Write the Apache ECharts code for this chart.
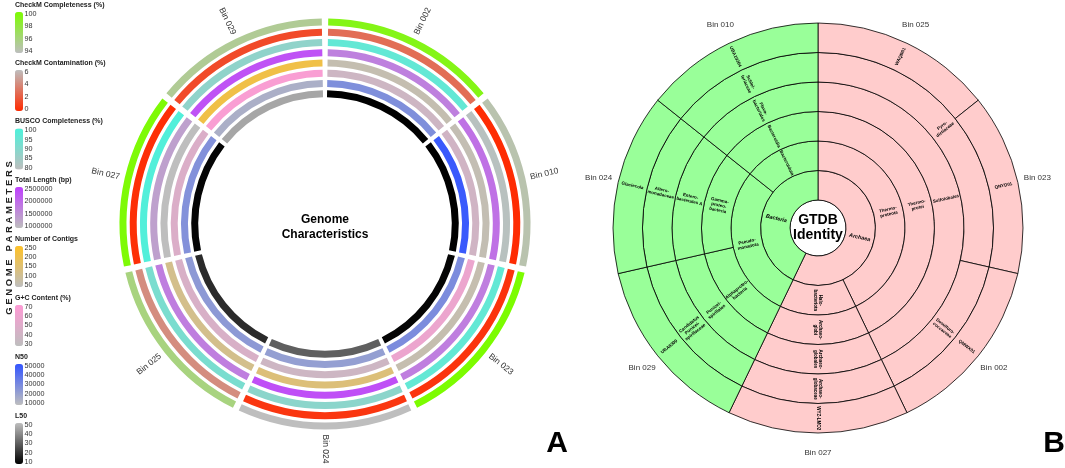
<!DOCTYPE html>
<html><head><meta charset="utf-8">
<script src="https://cdn.jsdelivr.net/npm/echarts@6/dist/echarts.min.js"></script>
<style>html,body{margin:0;padding:0;background:#fff}#chart{width:1065px;height:468px}</style>
</head><body><div id="chart"></div>
<script>
// ---------- Panel A data ----------
const bins = ['Bin 002','Bin 010','Bin 023','Bin 024','Bin 025','Bin 027','Bin 029'];
const checkmCompleteness = [99.3, 94.5, 100, 94.0, 96.0, 99.8, 95.3];
const checkmContamination = [2.7, 0.1, 0.4, 0.5, 4.0, 0.2, 1.3];
const buscoCompleteness = [96, 81, 96, 89, 92, 99, 88];
const totalLength = [1730000, 1900000, 1750000, 2300000, 1750000, 1350000, 2260000];
const numberOfContigs = [68, 64, 70, 142, 116, 50, 205];
const gcContent = [39, 41, 58, 39, 46, 48, 66];
const n50 = [28000, 48000, 29000, 22000, 24000, 27000, 15600];
const l50 = [10, 10, 11, 30, 19, 11, 45];

const legendTitles = ['CheckM Completeness (%)','CheckM Contamination (%)','BUSCO Completeness (%)','Total Length (bp)','Number of Contigs','G+C Content (%)','N50','L50'];
const ticksCheckmComp = [94, 96, 98, 100];
const ticksCheckmCont = [0, 2, 4, 6];
const ticksBusco = [80, 85, 90, 95, 100];
const ticksLength = [1000000, 1500000, 2000000, 2500000];
const ticksContigs = [50, 100, 150, 200, 250];
const ticksGC = [30, 40, 50, 60, 70];
const ticksN50 = [10000, 20000, 30000, 40000, 50000];
const ticksL50 = [10, 20, 30, 40, 50];

// ---------- Panel B data (clockwise from top) ----------
const gtdbBins = ['Bin 025','Bin 023','Bin 002','Bin 027','Bin 029','Bin 024','Bin 010'];
const domain = ['Archaea','Archaea','Archaea','Archaea','Bacteria','Bacteria','Bacteria'];
const phylum = ['Thermo-\nproteota','Thermo-\nproteota','Thermo-\nproteota','Halo-\nbacteriota','Pseudo-\nmonadota','Pseudo-\nmonadota','Bacteroidota'];
const taxClass = ['Thermo-\nprotei','Thermo-\nprotei','Thermo-\nprotei','Archaeo-\nglobi','Alphaproteo-\nbacteria','Gamma-\nproteo-\nbacteria','Bacteroidia'];
const taxOrder = ['Sulfolobales','Sulfolobales','Sulfolobales','Archaeo-\nglobales','Punicei-\nspirillales','Entero-\nbacterales A','Flavo-\nbacteriales'];
const family = ['Pyro-\ndictiaceae','Pyro-\ndictiaceae','Desulfuro-\ncoccaceae','Archaeo-\nglobaceae','Candidatus\nPunicei-\nspirillaceae','Altero-\nmonadaceae','Schlei-\nferiaceae'];
const genus = ['WAQB01','QNYD01','QMWX01','WYZ-LMO2','UBA8309','Glaciecola','UBA10364'];

// ---------- styles / layout ----------
const GRAY = '#BEBEBE';
const ramps = [[GRAY,'#7CFC00'],['#FF2A00',GRAY],[GRAY,'#4CF2DB'],[GRAY,'#BF3EFF'],[GRAY,'#FFC125'],[GRAY,'#FF9AD5'],[GRAY,'#3355FF'],['#000000',GRAY]];
const barTops = [12, 70, 128.5, 187, 246, 305, 364, 423];
const metrics = [checkmCompleteness, checkmContamination, buscoCompleteness, totalLength, numberOfContigs, gcContent, n50, l50];
const tickSets = [ticksCheckmComp, ticksCheckmCont, ticksBusco, ticksLength, ticksContigs, ticksGC, ticksN50, ticksL50];
const domainColor = {Archaea: '#FFCCCC', Bacteria: '#99FF99'};
const FONT = 'Liberation Sans, Arial, sans-serif';
const CLEAR = 'rgba(0,0,0,0)';

const source = bins.map((b, i) => [b, 1].concat(metrics.map(m => m[i])));

const series = [];
const visualMap = [];
const grid = [], xAxis = [], yAxis = [], title = [];
const A_CENTER = [325, 224];
metrics.forEach((m, k) => {
  const outer = 205.5 - 10.25 * k;
  series.push({
    type: 'pie', datasetIndex: 0, encode: {itemName: 0, value: 1},
    center: A_CENTER, radius: [outer - 7, outer], startAngle: 90, clockwise: true,
    padAngle: 1.8, avoidLabelOverlap: false, silent: true,
    itemStyle: {borderWidth: 0}, label: {show: false}, labelLine: {show: false},
    emphasis: {disabled: true}
  });
  const t = tickSets[k];
  visualMap.push({
    type: 'continuous', seriesIndex: k, dimension: 2 + k,
    min: t[0], max: t[t.length - 1], calculable: false, showLabel: false,
    inRange: {color: ramps[k]}, orient: 'vertical', left: 15, top: barTops[k],
    itemWidth: 8, itemHeight: 41, padding: 0, hoverLink: false
  });
  grid.push({left: 15, width: 8, top: barTops[k] + 1.8, height: 37.4});
  xAxis.push({gridIndex: k, type: 'value', show: false});
  yAxis.push({gridIndex: k, type: 'value', position: 'right', min: t[0], max: t[t.length - 1], interval: t[1] - t[0],
    axisLine: {show: false}, axisTick: {show: false}, splitLine: {show: false},
    axisLabel: {fontSize: 7.2, margin: 1.5, color: '#333', fontFamily: FONT, formatter: v => String(v)}});
  title.push({text: legendTitles[k], left: 15, top: barTops[k] - 10.5, padding: 0,
    textStyle: {fontSize: 7, fontWeight: 'bold', color: '#222', fontFamily: FONT}});
});
// bin name labels of panel A (transparent label ring)
series.push({
  type: 'pie', datasetIndex: 0, encode: {itemName: 0, value: 1},
  center: A_CENTER, radius: [207, 237], startAngle: 90, clockwise: true, silent: true,
  avoidLabelOverlap: false, itemStyle: {color: CLEAR, borderWidth: 0},
  label: {show: true, position: 'inside', rotate: 'radial', formatter: '{b}', fontSize: 8.5, color: '#333', fontFamily: FONT},
  labelLine: {show: false}, emphasis: {disabled: true}
});

// sunburst tree
const taxLevels = [domain, phylum, taxClass, taxOrder, family, genus];
function build(idxs, depth) {
  const groups = [];
  idxs.forEach(i => {
    const name = taxLevels[depth][i];
    const last = groups[groups.length - 1];
    if (last && last.name === name) last.idx.push(i); else groups.push({name, idx: [i]});
  });
  return groups.map(g => {
    const node = {name: g.name, itemStyle: {color: domainColor[domain[g.idx[0]]]}};
    if (depth < taxLevels.length - 1) node.children = build(g.idx, depth + 1);
    else node.children = g.idx.map(i => ({name: gtdbBins[i], value: 1, itemStyle: {color: CLEAR}}));
    return node;
  });
}
const treeData = [{name: 'GTDB\nIdentity', itemStyle: {color: '#fff'}, children: build(gtdbBins.map((_, i) => i), 0)}];
const B_CENTER = [818, 228];
const ringR = [28, 57.5, 87, 116.5, 146, 175.5, 205];
const sbLevels = [{},
  {r0: 0, r: ringR[0], label: {rotate: 0, fontSize: 14, fontWeight: 'bold', color: '#000', lineHeight: 15}},
  {r0: ringR[0], r: ringR[1], label: {fontSize: 5.5, fontStyle: 'italic'}}
];
for (let d = 1; d < 6; d++) sbLevels.push({r0: ringR[d], r: ringR[d + 1]});
sbLevels.push({r0: 206, r: 244, itemStyle: {color: CLEAR, borderWidth: 0},
  label: {position: 'inside', rotate: 0, align: 'center', fontSize: 8, fontWeight: 'normal', color: '#333'}});

series.push({
  type: 'sunburst', center: B_CENTER, sort: null, nodeClick: false, silent: true,
  data: treeData, levels: sbLevels,
  itemStyle: {borderColor: '#000', borderWidth: 0.8},
  label: {rotate: 'radial', fontSize: 4.5, fontWeight: 'bold', color: '#000', fontFamily: FONT, lineHeight: 5, minAngle: 0},
  emphasis: {focus: 'none'}
});

const option = {
  animation: false,
  textStyle: {fontFamily: FONT},
  dataset: [{source}],
  title, grid, xAxis, yAxis, visualMap, series,
  graphic: [
    {type: 'text', x: 9, y: 238, rotation: Math.PI / 2, style: {text: 'G E N O M E   P A R A M E T E R S', font: 'bold 9.5px ' + FONT, fill: '#222', align: 'center', verticalAlign: 'middle'}},
    {type: 'text', x: A_CENTER[0], y: 227, style: {text: 'Genome\nCharacteristics', font: 'bold 12px ' + FONT, lineHeight: 15, fill: '#000', align: 'center', verticalAlign: 'middle'}},
    {type: 'text', x: 557, y: 444, style: {text: 'A', font: 'bold 30px ' + FONT, fill: '#000', align: 'center', verticalAlign: 'middle'}},
    {type: 'text', x: 1054, y: 444, style: {text: 'B', font: 'bold 30px ' + FONT, fill: '#000', align: 'center', verticalAlign: 'middle'}}
  ]
};
const chart = echarts.init(document.getElementById('chart'), null, {renderer: 'canvas'});
chart.setOption(option);
</script></body></html>
